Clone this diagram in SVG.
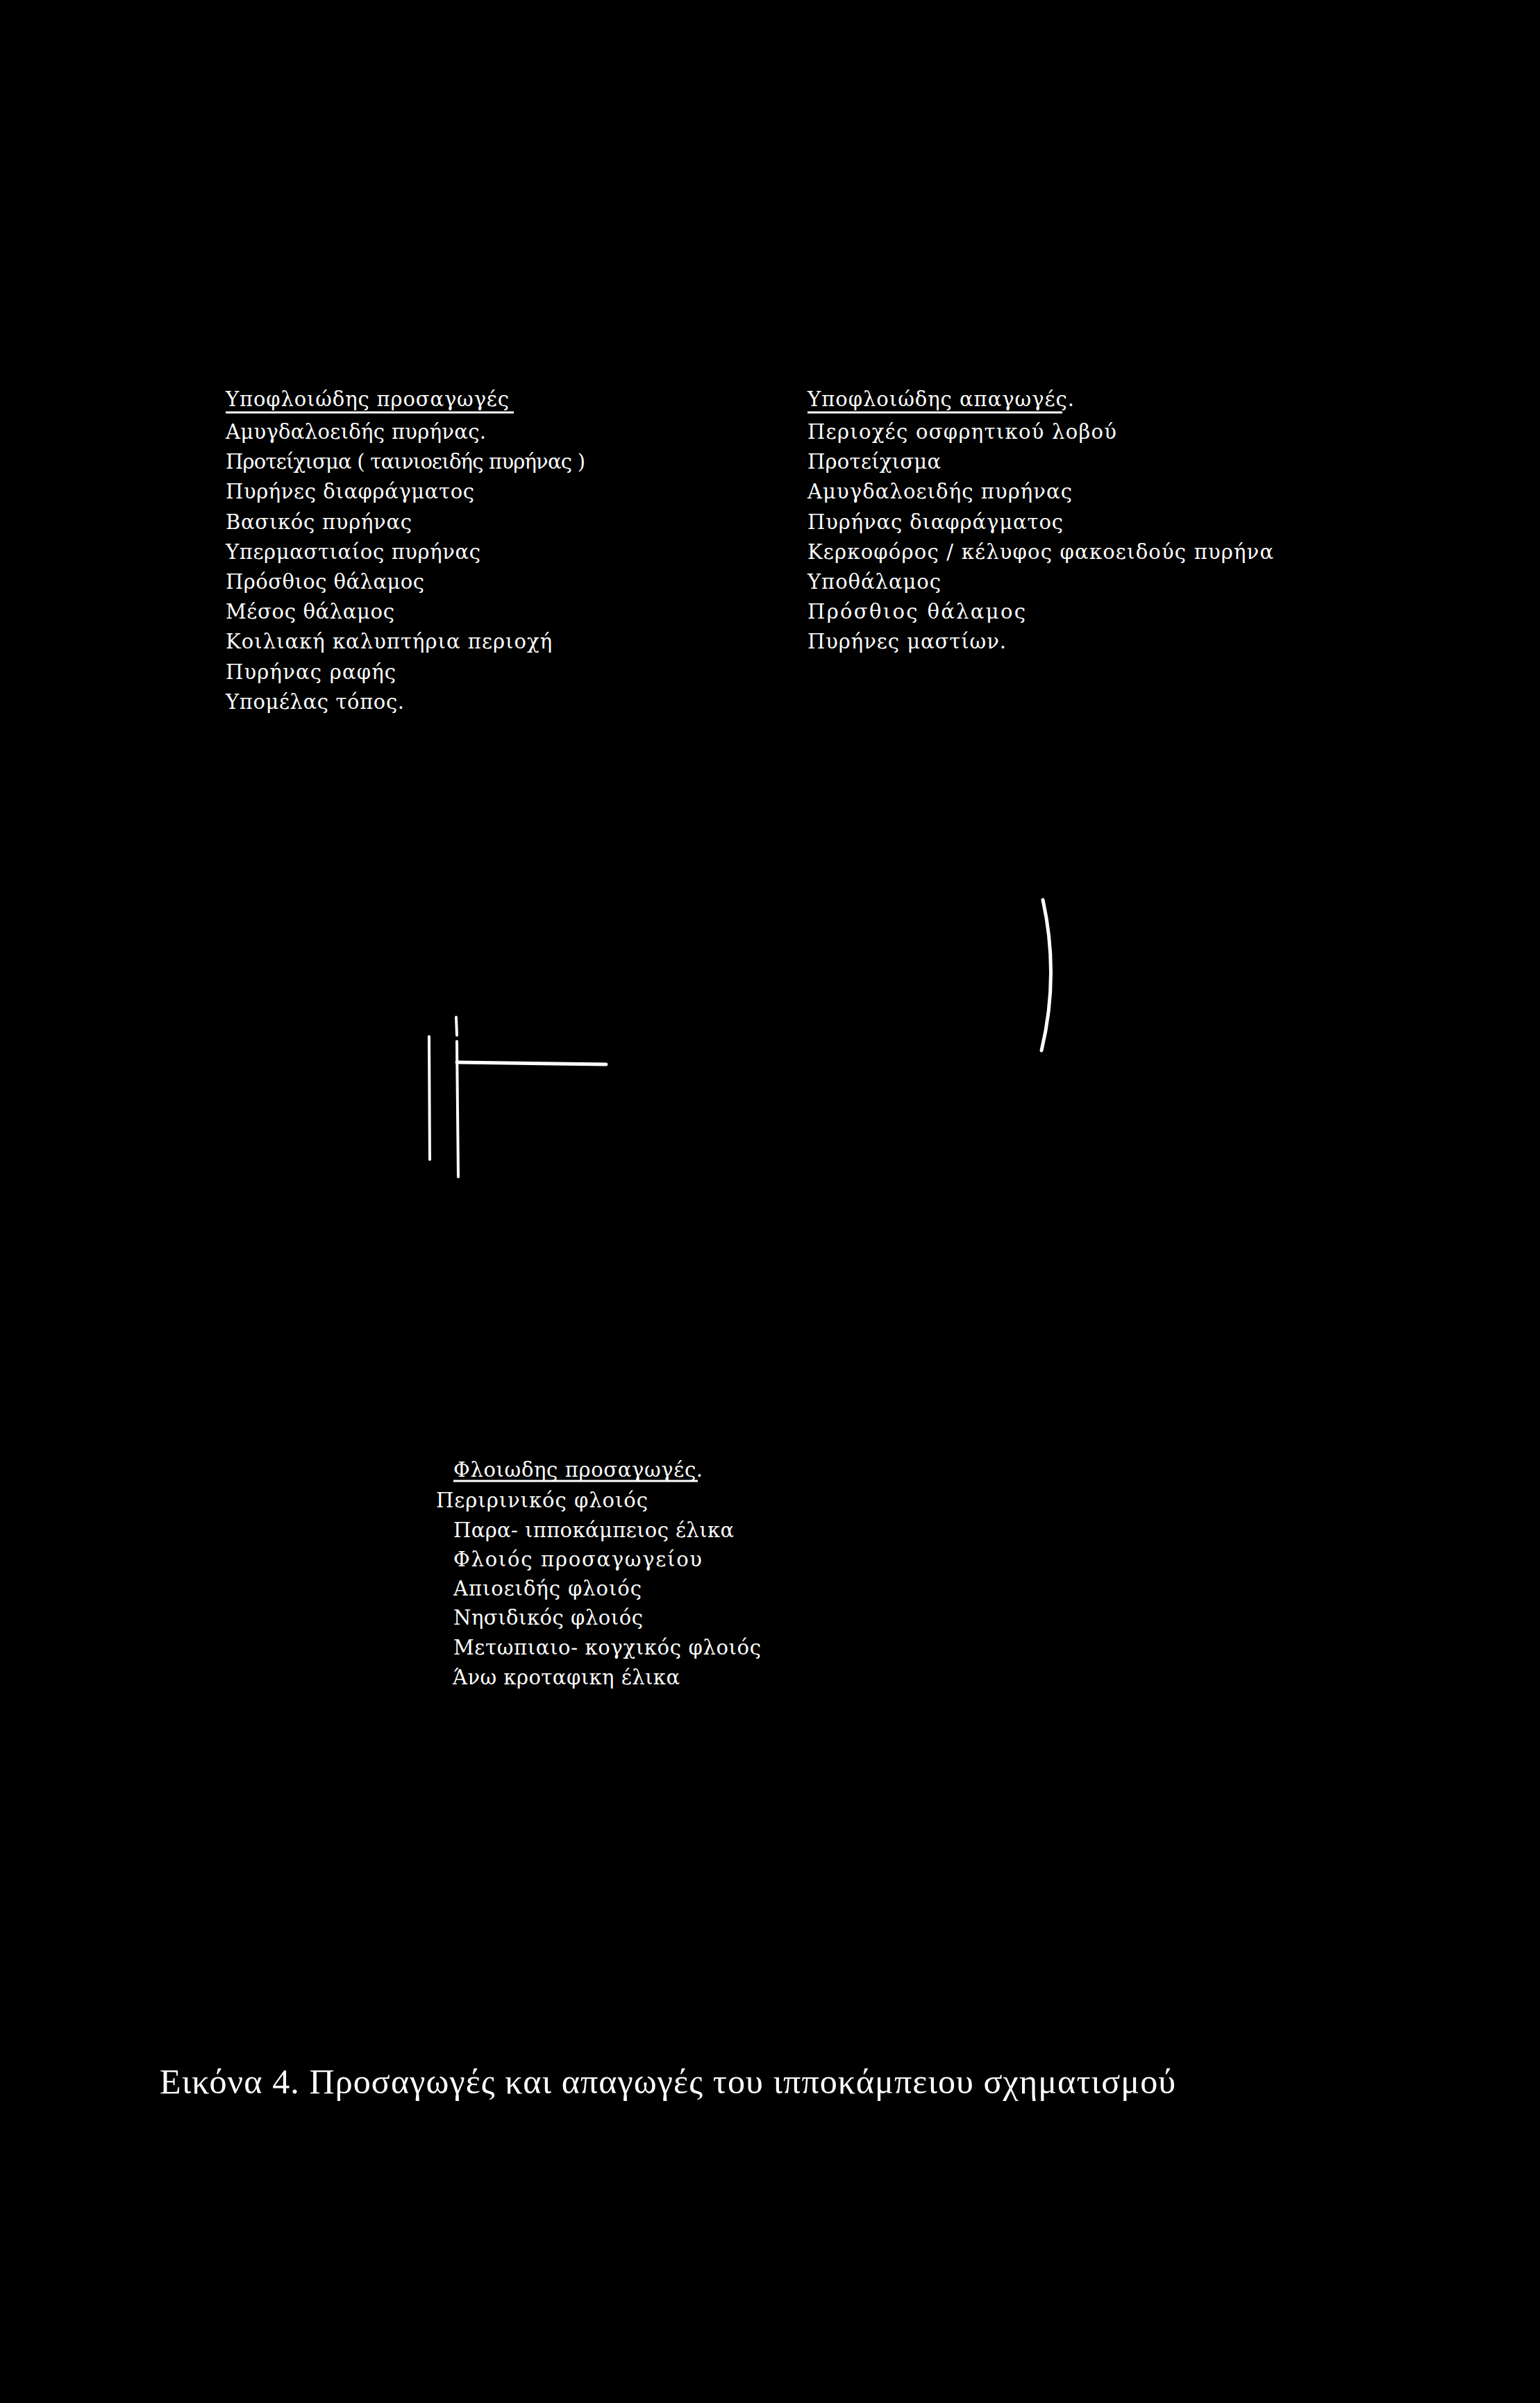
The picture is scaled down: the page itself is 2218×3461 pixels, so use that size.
<svg xmlns="http://www.w3.org/2000/svg" width="2218" height="3461" viewBox="0 0 2218 3461">
<style>
text{font-family:"DejaVu Serif","Liberation Serif",serif;fill:#fff;font-size:29px}
.cap{font-family:"Liberation Serif","DejaVu Serif",serif;font-size:50px}
.ul{stroke:#fff;stroke-width:3;fill:none}
.ln{stroke:#fff;fill:none;stroke-linecap:round}
</style>
<rect width="2218" height="3461" fill="#000"/>
<g id="subcortical-afferents">
<text x="325" y="585" textLength="408" lengthAdjust="spacing">Υποφλοιώδης προσαγωγές</text>
<line class="ul" x1="325" y1="594" x2="740" y2="594"/>
<text x="325" y="632" textLength="375" lengthAdjust="spacing">Αμυγδαλοειδής πυρήνας.</text>
<text x="325" y="675" textLength="518" lengthAdjust="spacing">Προτείχισμα ( ταινιοειδής πυρήνας )</text>
<text x="325" y="718" textLength="358" lengthAdjust="spacing">Πυρήνες διαφράγματος</text>
<text x="325" y="762" textLength="268" lengthAdjust="spacing">Βασικός πυρήνας</text>
<text x="325" y="805" textLength="367" lengthAdjust="spacing">Υπερμαστιαίος πυρήνας</text>
<text x="325" y="848" textLength="286" lengthAdjust="spacing">Πρόσθιος θάλαμος</text>
<text x="325" y="891" textLength="243" lengthAdjust="spacing">Μέσος θάλαμος</text>
<text x="325" y="934" textLength="470" lengthAdjust="spacing">Κοιλιακή καλυπτήρια περιοχή</text>
<text x="325" y="978" textLength="245" lengthAdjust="spacing">Πυρήνας ραφής</text>
<text x="325" y="1021" textLength="257" lengthAdjust="spacing">Υπομέλας τόπος.</text>
</g>
<g id="subcortical-efferents">
<text x="1163" y="585" textLength="384" lengthAdjust="spacing">Υποφλοιώδης απαγωγές.</text>
<line class="ul" x1="1163" y1="594" x2="1530" y2="594"/>
<text x="1163" y="632" textLength="445" lengthAdjust="spacing">Περιοχές οσφρητικού λοβού</text>
<text x="1163" y="675" textLength="192" lengthAdjust="spacing">Προτείχισμα</text>
<text x="1163" y="718" textLength="381" lengthAdjust="spacing">Αμυγδαλοειδής πυρήνας</text>
<text x="1163" y="762" textLength="368" lengthAdjust="spacing">Πυρήνας διαφράγματος</text>
<text x="1163" y="805" textLength="671" lengthAdjust="spacing">Κερκοφόρος / κέλυφος φακοειδούς πυρήνα</text>
<text x="1163" y="848" textLength="192" lengthAdjust="spacing">Υποθάλαμος</text>
<text x="1163" y="891" textLength="314" lengthAdjust="spacing">Πρόσθιος θάλαμος</text>
<text x="1163" y="934" textLength="286" lengthAdjust="spacing">Πυρήνες μαστίων.</text>
</g>
<g id="connectors">
<line class="ln" x1="618" y1="1493" x2="619" y2="1670" stroke-width="4"/>
<line class="ln" x1="657" y1="1465" x2="658" y2="1491" stroke-width="4"/>
<line class="ln" x1="658" y1="1500" x2="660" y2="1695" stroke-width="4"/>
<line class="ln" x1="658" y1="1530" x2="873" y2="1533" stroke-width="5"/>
<path class="ln" d="M1502,1296 Q1526,1405 1500,1513" stroke-width="5"/>
</g>
<g id="cortical-afferents">
<text x="653" y="2127" textLength="359" lengthAdjust="spacing">Φλοιωδης προσαγωγές.</text>
<line class="ul" x1="653" y1="2133" x2="1005" y2="2133"/>
<text x="628" y="2171" textLength="305" lengthAdjust="spacing">Περιρινικός φλοιός</text>
<text x="653" y="2214" textLength="404" lengthAdjust="spacing">Παρα- ιπποκάμπειος έλικα</text>
<text x="653" y="2256" textLength="358" lengthAdjust="spacing">Φλοιός προσαγωγείου</text>
<text x="653" y="2298" textLength="271" lengthAdjust="spacing">Απιοειδής φλοιός</text>
<text x="653" y="2340" textLength="273" lengthAdjust="spacing">Νησιδικός φλοιός</text>
<text x="653" y="2383" textLength="443" lengthAdjust="spacing">Μετωπιαιο- κογχικός φλοιός</text>
<text x="652" y="2426" textLength="327" lengthAdjust="spacing">Άνω κροταφικη έλικα</text>
</g>
<g id="caption">
<text class="cap" x="230" y="3015" textLength="1463" lengthAdjust="spacing">Εικόνα 4. Προσαγωγές και απαγωγές του ιπποκάμπειου σχηματισμού</text>
</g>
</svg>
